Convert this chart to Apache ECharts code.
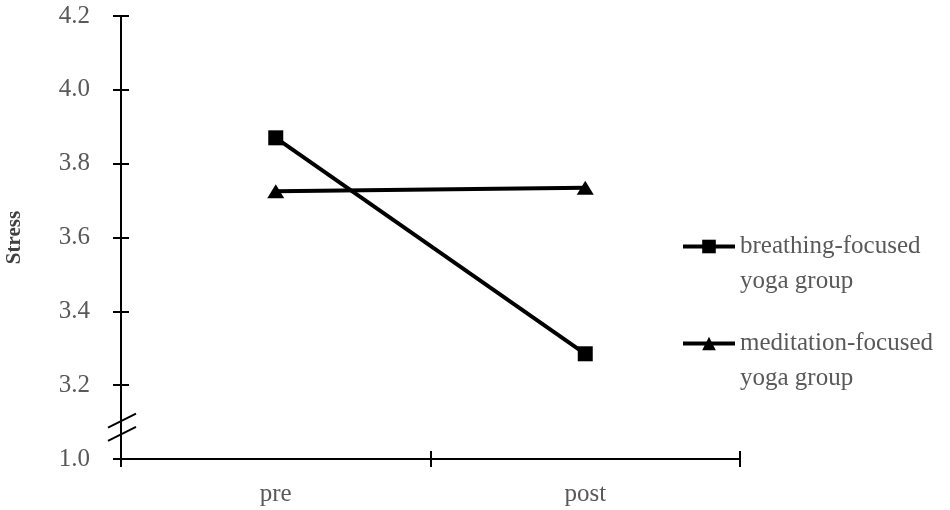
<!DOCTYPE html>
<html>
<head>
<meta charset="utf-8">
<script src="https://cdn.jsdelivr.net/npm/echarts@6/dist/echarts.min.js"></script>
<style>
  html, body { margin: 0; padding: 0; background: #fff; }
  #main { width: 950px; height: 510px; }
</style>
</head>
<body>
<div id="main"></div>
<script>
'use strict'
// stress, pre vs post, two yoga groups
var phases = ['pre', 'post'];
var breathing = [3.87, 3.285];
var meditation = [3.725, 3.735];
var seriesNames = ['breathing-focused\nyoga group', 'meditation-focused\nyoga group'];
// the lowest tick stands for 1.0 (axis is broken below 3.2)
var yMin = 3.0, yMax = 4.2, yStep = 0.2;

var font = 'Liberation Serif';
var grey = '#595959';
var lineStyle = { color: '#000', width: 2 };

function legendBox(name, top) {
    return {
        data: [name],
        left: 676,
        top: top,
        orient: 'vertical',
        itemWidth: 52,
        itemHeight: 17,
        itemGap: 4,
        // leading blank line keeps the icon on the first text line
        formatter: function (n) { return '\n' + n; },
        lineStyle: { width: 4 },
        textStyle: { fontFamily: font, fontSize: 25, color: grey, lineHeight: 35 },
        selectedMode: false
    };
}

var gridBox = { left: 121, right: 210, top: 16, bottom: 51, outerBoundsMode: 'none' };
var plotWidth = 950 - gridBox.left - gridBox.right;

var option = {
    animation: false,
    grid: [gridBox, gridBox],
    legend: [legendBox(seriesNames[0], 189), legendBox(seriesNames[1], 286)],
    xAxis: [
        {
            type: 'category',
            data: phases,
            axisLine: { show: true, lineStyle: lineStyle },
            axisTick: { show: true, length: 8, lineStyle: lineStyle },
            axisLabel: { fontFamily: font, fontSize: 25, color: grey, margin: 23 }
        },
        {
            // inner half of the crossing ticks
            type: 'category',
            gridIndex: 1,
            data: phases,
            axisLine: { show: true, lineStyle: lineStyle },
            axisTick: { show: true, inside: true, length: 8, lineStyle: lineStyle },
            axisLabel: { show: false }
        }
    ],
    yAxis: [
        {
            type: 'value',
            min: yMin,
            max: yMax,
            interval: yStep,
            name: 'Stress',
            nameLocation: 'middle',
            nameGap: 96,
            nameTextStyle: { fontFamily: font, fontSize: 21, fontWeight: 'bold', color: '#404040' },
            splitLine: { show: false },
            axisLine: { show: true, lineStyle: lineStyle },
            axisTick: { show: true, length: 8, lineStyle: lineStyle },
            axisLabel: {
                fontFamily: font, fontSize: 25, color: grey, margin: 31,
                formatter: function (v) { return Math.abs(v - yMin) < 1e-6 ? '1.0' : v.toFixed(1); }
            }
        },
        {
            type: 'value',
            gridIndex: 1,
            min: yMin,
            max: yMax,
            interval: yStep,
            show: false
        },
        {
            // right-side axis pulled back onto the left edge: inner half of the y ticks
            type: 'value',
            min: yMin,
            max: yMax,
            interval: yStep,
            position: 'right',
            offset: -plotWidth,
            splitLine: { show: false },
            axisLine: { show: false },
            axisTick: { show: true, length: 8, lineStyle: lineStyle },
            axisLabel: { show: false }
        }
    ],
    series: [
        {
            name: seriesNames[0],
            type: 'line',
            data: breathing,
            symbol: 'rect',
            symbolSize: 15,
            lineStyle: { color: '#000', width: 4 },
            itemStyle: { color: '#000' }
        },
        {
            name: seriesNames[1],
            type: 'line',
            data: meditation,
            symbol: 'triangle',
            symbolSize: [17, 14],
            lineStyle: { color: '#000', width: 4 },
            itemStyle: { color: '#000' }
        },
        {
            // empty series so the second (tick-only) grid gets drawn
            name: 'ticks',
            type: 'line',
            xAxisIndex: 1,
            yAxisIndex: 1,
            data: [],
            silent: true
        },
        {
            name: 'ticks2',
            type: 'line',
            yAxisIndex: 2,
            data: [],
            silent: true
        }
    ]
};

var chart = echarts.init(document.getElementById('main'));
chart.setOption(option);

// axis break slashes between the 1.0 and 3.2 ticks
var axisX = gridBox.left;
var yA = chart.convertToPixel({ yAxisIndex: 0 }, 3.068);
var yB = chart.convertToPixel({ yAxisIndex: 0 }, 3.104);
chart.setOption({
    graphic: [yB, yA].map(function (y) {
        return {
            type: 'line',
            shape: { x1: axisX - 13, y1: y + 7, x2: axisX + 15, y2: y - 7 },
            style: { stroke: '#000', lineWidth: 2 }
        };
    })
});
</script>
</body>
</html>
